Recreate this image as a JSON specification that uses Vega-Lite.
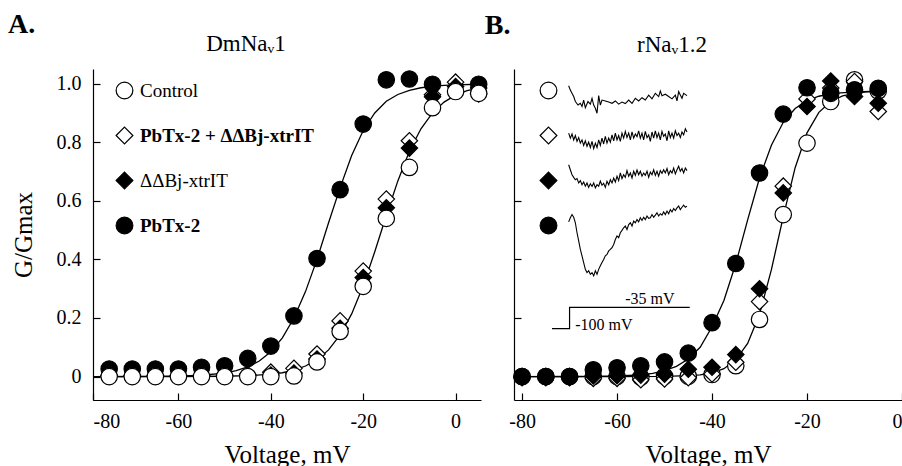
{
  "$schema": "https://vega.github.io/schema/vega-lite/v6.json",
  "padding": {"left": 8, "top": 11, "right": 0, "bottom": 0},
  "spacing": -6,
  "resolve": {"scale": {"x": "independent", "y": "independent", "shape": "independent", "fill": "independent"}},
  "config": {
    "font": "Liberation Serif",
    "view": {"stroke": null},
    "axis": {"domainColor": "black", "domainWidth": 1.2, "tickColor": "black", "tickWidth": 1.2, "tickSize": -7, "grid": false, "labelFont": "Liberation Serif", "labelFontSize": 20, "labelColor": "black", "titleFont": "Liberation Serif", "titleFontSize": 25, "titleFontWeight": "normal", "titleColor": "black"},
    "axisX": {"labelPadding": 18, "titlePadding": 11},
    "axisY": {"labelPadding": 19, "titlePadding": 20},
    "title": {"font": "Liberation Serif", "color": "black"},
    "legend": {"direction": "vertical", "symbolSize": 280, "symbolStrokeColor": "black", "symbolStrokeWidth": 1.2, "labelFont": "Liberation Serif", "labelFontSize": 19, "labelColor": "black", "labelOffset": 6, "rowPadding": 22, "padding": 0, "labelLimit": 400, "symbolOpacity": 1}
  },
  "datasets": {
    "ptsA": [
      {"s": "PD", "v": -75, "g": 0.005}, {"s": "PD", "v": -70, "g": 0.005}, {"s": "PD", "v": -65, "g": 0.005}, {"s": "PD", "v": -60, "g": 0.005}, {"s": "PD", "v": -55, "g": 0.005}, {"s": "PD", "v": -50, "g": 0.005}, {"s": "PD", "v": -45, "g": 0.008}, {"s": "PD", "v": -40, "g": 0.015}, {"s": "PD", "v": -35, "g": 0.028}, {"s": "PD", "v": -30, "g": 0.077}, {"s": "PD", "v": -25, "g": 0.19}, {"s": "PD", "v": -20, "g": 0.36}, {"s": "PD", "v": -15, "g": 0.606}, {"s": "PD", "v": -10, "g": 0.805}, {"s": "PD", "v": -5, "g": 0.962}, {"s": "PD", "v": 0, "g": 1.005}, {"s": "PD", "v": 5, "g": 0.965},
      {"s": "D", "v": -75, "g": 0.003}, {"s": "D", "v": -70, "g": 0.003}, {"s": "D", "v": -65, "g": 0.003}, {"s": "D", "v": -60, "g": 0.003}, {"s": "D", "v": -55, "g": 0.003}, {"s": "D", "v": -50, "g": 0.003}, {"s": "D", "v": -45, "g": 0.003}, {"s": "D", "v": -40, "g": 0.005}, {"s": "D", "v": -35, "g": 0.012}, {"s": "D", "v": -30, "g": 0.06}, {"s": "D", "v": -25, "g": 0.165}, {"s": "D", "v": -20, "g": 0.338}, {"s": "D", "v": -15, "g": 0.576}, {"s": "D", "v": -10, "g": 0.78}, {"s": "D", "v": -5, "g": 0.955}, {"s": "D", "v": 0, "g": 0.99}, {"s": "D", "v": 5, "g": 0.985},
      {"s": "P", "v": -75, "g": 0.026}, {"s": "P", "v": -70, "g": 0.026}, {"s": "P", "v": -65, "g": 0.026}, {"s": "P", "v": -60, "g": 0.026}, {"s": "P", "v": -55, "g": 0.032}, {"s": "P", "v": -50, "g": 0.037}, {"s": "P", "v": -45, "g": 0.062}, {"s": "P", "v": -40, "g": 0.104}, {"s": "P", "v": -35, "g": 0.207}, {"s": "P", "v": -30, "g": 0.403}, {"s": "P", "v": -25, "g": 0.638}, {"s": "P", "v": -20, "g": 0.862}, {"s": "P", "v": -15, "g": 1.013}, {"s": "P", "v": -10, "g": 1.016}, {"s": "P", "v": -5, "g": 0.998}, {"s": "P", "v": 5, "g": 0.998},
      {"s": "C", "v": -75, "g": 0.0}, {"s": "C", "v": -70, "g": 0.0}, {"s": "C", "v": -65, "g": 0.0}, {"s": "C", "v": -60, "g": 0.0}, {"s": "C", "v": -55, "g": 0.0}, {"s": "C", "v": -50, "g": 0.0}, {"s": "C", "v": -45, "g": 0.0}, {"s": "C", "v": -40, "g": 0.0}, {"s": "C", "v": -35, "g": 0.002}, {"s": "C", "v": -30, "g": 0.05}, {"s": "C", "v": -25, "g": 0.154}, {"s": "C", "v": -20, "g": 0.308}, {"s": "C", "v": -15, "g": 0.54}, {"s": "C", "v": -10, "g": 0.714}, {"s": "C", "v": -5, "g": 0.918}, {"s": "C", "v": 0, "g": 0.973}, {"s": "C", "v": 5, "g": 0.967}
    ],
    "curvesA": [
      {"c": "P", "v": -78.5, "g": 0.0}, {"c": "P", "v": -70, "g": 0.0002}, {"c": "P", "v": -65, "g": 0.0006}, {"c": "P", "v": -60, "g": 0.0017}, {"c": "P", "v": -55, "g": 0.0045}, {"c": "P", "v": -50, "g": 0.012}, {"c": "P", "v": -47.5, "g": 0.02}, {"c": "P", "v": -45, "g": 0.033}, {"c": "P", "v": -42.5, "g": 0.053}, {"c": "P", "v": -40, "g": 0.085}, {"c": "P", "v": -37.5, "g": 0.132}, {"c": "P", "v": -35, "g": 0.2}, {"c": "P", "v": -32.5, "g": 0.29}, {"c": "P", "v": -30, "g": 0.4}, {"c": "P", "v": -27.5, "g": 0.525}, {"c": "P", "v": -25, "g": 0.645}, {"c": "P", "v": -22.5, "g": 0.755}, {"c": "P", "v": -20, "g": 0.84}, {"c": "P", "v": -17.5, "g": 0.9}, {"c": "P", "v": -15, "g": 0.94}, {"c": "P", "v": -12.5, "g": 0.963}, {"c": "P", "v": -10, "g": 0.977}, {"c": "P", "v": -7.5, "g": 0.986}, {"c": "P", "v": -5, "g": 0.991}, {"c": "P", "v": -2.5, "g": 0.994}, {"c": "P", "v": 0, "g": 0.996}, {"c": "P", "v": 5, "g": 0.998},
      {"c": "C", "v": -78.5, "g": 0.0}, {"c": "C", "v": -70, "g": 0.0}, {"c": "C", "v": -60, "g": 0.0002}, {"c": "C", "v": -50, "g": 0.001}, {"c": "C", "v": -45, "g": 0.003}, {"c": "C", "v": -40, "g": 0.008}, {"c": "C", "v": -37.5, "g": 0.013}, {"c": "C", "v": -35, "g": 0.022}, {"c": "C", "v": -32.5, "g": 0.036}, {"c": "C", "v": -30, "g": 0.057}, {"c": "C", "v": -27.5, "g": 0.091}, {"c": "C", "v": -25, "g": 0.142}, {"c": "C", "v": -22.5, "g": 0.214}, {"c": "C", "v": -20, "g": 0.31}, {"c": "C", "v": -17.5, "g": 0.426}, {"c": "C", "v": -15, "g": 0.55}, {"c": "C", "v": -12.5, "g": 0.668}, {"c": "C", "v": -10, "g": 0.769}, {"c": "C", "v": -7.5, "g": 0.846}, {"c": "C", "v": -5, "g": 0.9}, {"c": "C", "v": -2.5, "g": 0.937}, {"c": "C", "v": 0, "g": 0.961}, {"c": "C", "v": 2.5, "g": 0.976}, {"c": "C", "v": 5, "g": 0.985}
    ],
    "ptsB": [
      {"s": "C", "v": -80, "g": 0.0}, {"s": "C", "v": -75, "g": 0.0}, {"s": "C", "v": -70, "g": 0.0}, {"s": "C", "v": -65, "g": 0.0}, {"s": "C", "v": -60, "g": 0.0}, {"s": "C", "v": -55, "g": -0.002}, {"s": "C", "v": -50, "g": 0.001}, {"s": "C", "v": -45, "g": 0.001}, {"s": "C", "v": -40, "g": 0.007}, {"s": "C", "v": -35, "g": 0.037}, {"s": "C", "v": -30, "g": 0.195}, {"s": "C", "v": -25, "g": 0.553}, {"s": "C", "v": -20, "g": 0.797}, {"s": "C", "v": -15, "g": 0.939}, {"s": "C", "v": -10, "g": 1.013}, {"s": "C", "v": -5, "g": 0.975},
      {"s": "PD", "v": -80, "g": -0.004}, {"s": "PD", "v": -75, "g": -0.004}, {"s": "PD", "v": -70, "g": -0.004}, {"s": "PD", "v": -65, "g": -0.006}, {"s": "PD", "v": -60, "g": -0.006}, {"s": "PD", "v": -55, "g": -0.011}, {"s": "PD", "v": -50, "g": -0.008}, {"s": "PD", "v": -45, "g": -0.004}, {"s": "PD", "v": -40, "g": 0.009}, {"s": "PD", "v": -35, "g": 0.049}, {"s": "PD", "v": -30, "g": 0.256}, {"s": "PD", "v": -25, "g": 0.65}, {"s": "PD", "v": -20, "g": 0.948}, {"s": "PD", "v": -15, "g": 0.985}, {"s": "PD", "v": -10, "g": 1.007}, {"s": "PD", "v": -5, "g": 0.905},
      {"s": "P", "v": -80, "g": 0.0}, {"s": "P", "v": -75, "g": 0.0}, {"s": "P", "v": -70, "g": 0.0}, {"s": "P", "v": -65, "g": 0.023}, {"s": "P", "v": -60, "g": 0.03}, {"s": "P", "v": -55, "g": 0.037}, {"s": "P", "v": -50, "g": 0.05}, {"s": "P", "v": -45, "g": 0.08}, {"s": "P", "v": -40, "g": 0.184}, {"s": "P", "v": -35, "g": 0.386}, {"s": "P", "v": -30, "g": 0.695}, {"s": "P", "v": -25, "g": 0.896}, {"s": "P", "v": -20, "g": 0.986}, {"s": "P", "v": -15, "g": 0.967}, {"s": "P", "v": -10, "g": 0.979}, {"s": "P", "v": -5, "g": 0.984},
      {"s": "D", "v": -80, "g": 0.0}, {"s": "D", "v": -75, "g": 0.0}, {"s": "D", "v": -70, "g": 0.0}, {"s": "D", "v": -65, "g": 0.002}, {"s": "D", "v": -60, "g": 0.003}, {"s": "D", "v": -55, "g": 0.005}, {"s": "D", "v": -50, "g": 0.008}, {"s": "D", "v": -45, "g": 0.025}, {"s": "D", "v": -40, "g": 0.032}, {"s": "D", "v": -35, "g": 0.075}, {"s": "D", "v": -30, "g": 0.3}, {"s": "D", "v": -25, "g": 0.627}, {"s": "D", "v": -20, "g": 0.922}, {"s": "D", "v": -15, "g": 1.009}, {"s": "D", "v": -10, "g": 0.956}, {"s": "D", "v": -5, "g": 0.933}
    ],
    "curvesB": [
      {"c": "P", "v": -81, "g": 0.0}, {"c": "P", "v": -70, "g": 0.0002}, {"c": "P", "v": -65, "g": 0.0008}, {"c": "P", "v": -60, "g": 0.002}, {"c": "P", "v": -55, "g": 0.006}, {"c": "P", "v": -52.5, "g": 0.011}, {"c": "P", "v": -50, "g": 0.02}, {"c": "P", "v": -47.5, "g": 0.035}, {"c": "P", "v": -45, "g": 0.06}, {"c": "P", "v": -42.5, "g": 0.1}, {"c": "P", "v": -40, "g": 0.17}, {"c": "P", "v": -37.5, "g": 0.26}, {"c": "P", "v": -35, "g": 0.385}, {"c": "P", "v": -32.5, "g": 0.535}, {"c": "P", "v": -30, "g": 0.678}, {"c": "P", "v": -27.5, "g": 0.79}, {"c": "P", "v": -25, "g": 0.868}, {"c": "P", "v": -22.5, "g": 0.915}, {"c": "P", "v": -20, "g": 0.942}, {"c": "P", "v": -17.5, "g": 0.957}, {"c": "P", "v": -15, "g": 0.966}, {"c": "P", "v": -10, "g": 0.972}, {"c": "P", "v": -5, "g": 0.974},
      {"c": "C", "v": -81, "g": 0.0}, {"c": "C", "v": -60, "g": 0.0}, {"c": "C", "v": -50, "g": 0.0005}, {"c": "C", "v": -45, "g": 0.003}, {"c": "C", "v": -42.5, "g": 0.006}, {"c": "C", "v": -40, "g": 0.013}, {"c": "C", "v": -37.5, "g": 0.027}, {"c": "C", "v": -35, "g": 0.057}, {"c": "C", "v": -32.5, "g": 0.113}, {"c": "C", "v": -30, "g": 0.213}, {"c": "C", "v": -27.5, "g": 0.365}, {"c": "C", "v": -25, "g": 0.546}, {"c": "C", "v": -22.5, "g": 0.713}, {"c": "C", "v": -20, "g": 0.832}, {"c": "C", "v": -17.5, "g": 0.902}, {"c": "C", "v": -15, "g": 0.939}, {"c": "C", "v": -12.5, "g": 0.958}, {"c": "C", "v": -10, "g": 0.967}, {"c": "C", "v": -7.5, "g": 0.972}, {"c": "C", "v": -5, "g": 0.974}
    ],
    "step": [
      {"i": 1, "v": -73.7, "g": 0.164}, {"i": 2, "v": -70.0, "g": 0.164}, {"i": 3, "v": -70.0, "g": 0.236}, {"i": 4, "v": -44.7, "g": 0.236}
    ],
    "stepLabels": [
      {"v": -58.3, "g": 0.247, "label": "-35 mV"}, {"v": -68.8, "g": 0.16, "label": "-100 mV"}
    ],
    "traces": [
      {"t": 1, "v": -70.19, "g": 0.993}, {"t": 1, "v": -69.84, "g": 0.978}, {"t": 1, "v": -69.13, "g": 0.956}, {"t": 1, "v": -68.78, "g": 0.939}, {"t": 1, "v": -68.22, "g": 0.927}, {"t": 1, "v": -67.73, "g": 0.933}, {"t": 1, "v": -67.38, "g": 0.922}, {"t": 1, "v": -67.03, "g": 0.944}, {"t": 1, "v": -66.68, "g": 0.918}, {"t": 1, "v": -66.12, "g": 0.939}, {"t": 1, "v": -65.62, "g": 0.93}, {"t": 1, "v": -65.27, "g": 0.95}, {"t": 1, "v": -64.92, "g": 0.927}, {"t": 1, "v": -64.57, "g": 0.916}, {"t": 1, "v": -64.22, "g": 0.899}, {"t": 1, "v": -63.87, "g": 0.959}, {"t": 1, "v": -63.52, "g": 0.927}, {"t": 1, "v": -63.17, "g": 0.944}, {"t": 1, "v": -62.47, "g": 0.941}, {"t": 1, "v": -61.76, "g": 0.937}, {"t": 1, "v": -61.06, "g": 0.933}, {"t": 1, "v": -60.36, "g": 0.941}, {"t": 1, "v": -59.66, "g": 0.93}, {"t": 1, "v": -58.96, "g": 0.937}, {"t": 1, "v": -58.26, "g": 0.932}, {"t": 1, "v": -57.55, "g": 0.944}, {"t": 1, "v": -56.85, "g": 0.933}, {"t": 1, "v": -56.15, "g": 0.95}, {"t": 1, "v": -55.45, "g": 0.941}, {"t": 1, "v": -54.75, "g": 0.952}, {"t": 1, "v": -54.05, "g": 0.944}, {"t": 1, "v": -53.34, "g": 0.961}, {"t": 1, "v": -52.64, "g": 0.948}, {"t": 1, "v": -51.94, "g": 0.967}, {"t": 1, "v": -51.24, "g": 0.956}, {"t": 1, "v": -50.89, "g": 0.975}, {"t": 1, "v": -50.54, "g": 0.959}, {"t": 1, "v": -49.84, "g": 0.964}, {"t": 1, "v": -49.13, "g": 0.956}, {"t": 1, "v": -48.43, "g": 0.948}, {"t": 1, "v": -47.73, "g": 0.961}, {"t": 1, "v": -47.38, "g": 0.941}, {"t": 1, "v": -47.03, "g": 0.973}, {"t": 1, "v": -46.68, "g": 0.961}, {"t": 1, "v": -46.33, "g": 0.95}, {"t": 1, "v": -45.98, "g": 0.967}, {"t": 1, "v": -45.27, "g": 0.959},
      {"t": 2, "v": -70.19, "g": 0.831}, {"t": 2, "v": -69.84, "g": 0.814}, {"t": 2, "v": -69.48, "g": 0.828}, {"t": 2, "v": -69.13, "g": 0.808}, {"t": 2, "v": -68.78, "g": 0.823}, {"t": 2, "v": -68.43, "g": 0.803}, {"t": 2, "v": -68.08, "g": 0.816}, {"t": 2, "v": -67.73, "g": 0.797}, {"t": 2, "v": -67.38, "g": 0.808}, {"t": 2, "v": -67.03, "g": 0.789}, {"t": 2, "v": -66.68, "g": 0.805}, {"t": 2, "v": -66.33, "g": 0.786}, {"t": 2, "v": -65.98, "g": 0.8}, {"t": 2, "v": -65.62, "g": 0.782}, {"t": 2, "v": -65.27, "g": 0.803}, {"t": 2, "v": -64.92, "g": 0.778}, {"t": 2, "v": -64.57, "g": 0.797}, {"t": 2, "v": -64.22, "g": 0.782}, {"t": 2, "v": -63.87, "g": 0.808}, {"t": 2, "v": -63.52, "g": 0.789}, {"t": 2, "v": -63.17, "g": 0.814}, {"t": 2, "v": -62.82, "g": 0.794}, {"t": 2, "v": -62.47, "g": 0.82}, {"t": 2, "v": -62.12, "g": 0.797}, {"t": 2, "v": -61.76, "g": 0.814}, {"t": 2, "v": -61.41, "g": 0.8}, {"t": 2, "v": -61.06, "g": 0.825}, {"t": 2, "v": -60.71, "g": 0.805}, {"t": 2, "v": -60.36, "g": 0.831}, {"t": 2, "v": -60.01, "g": 0.808}, {"t": 2, "v": -59.66, "g": 0.823}, {"t": 2, "v": -59.31, "g": 0.803}, {"t": 2, "v": -58.96, "g": 0.831}, {"t": 2, "v": -58.61, "g": 0.814}, {"t": 2, "v": -58.26, "g": 0.837}, {"t": 2, "v": -57.91, "g": 0.816}, {"t": 2, "v": -57.55, "g": 0.831}, {"t": 2, "v": -57.2, "g": 0.808}, {"t": 2, "v": -56.85, "g": 0.835}, {"t": 2, "v": -56.5, "g": 0.814}, {"t": 2, "v": -56.15, "g": 0.828}, {"t": 2, "v": -55.8, "g": 0.819}, {"t": 2, "v": -55.45, "g": 0.839}, {"t": 2, "v": -55.1, "g": 0.814}, {"t": 2, "v": -54.75, "g": 0.831}, {"t": 2, "v": -54.4, "g": 0.808}, {"t": 2, "v": -54.05, "g": 0.837}, {"t": 2, "v": -53.69, "g": 0.816}, {"t": 2, "v": -53.34, "g": 0.825}, {"t": 2, "v": -52.99, "g": 0.803}, {"t": 2, "v": -52.64, "g": 0.835}, {"t": 2, "v": -52.29, "g": 0.814}, {"t": 2, "v": -51.94, "g": 0.839}, {"t": 2, "v": -51.59, "g": 0.816}, {"t": 2, "v": -51.24, "g": 0.831}, {"t": 2, "v": -50.89, "g": 0.808}, {"t": 2, "v": -50.54, "g": 0.837}, {"t": 2, "v": -50.19, "g": 0.82}, {"t": 2, "v": -49.84, "g": 0.828}, {"t": 2, "v": -49.48, "g": 0.805}, {"t": 2, "v": -49.13, "g": 0.839}, {"t": 2, "v": -48.78, "g": 0.816}, {"t": 2, "v": -48.43, "g": 0.831}, {"t": 2, "v": -48.08, "g": 0.814}, {"t": 2, "v": -47.73, "g": 0.839}, {"t": 2, "v": -47.38, "g": 0.823}, {"t": 2, "v": -47.03, "g": 0.831}, {"t": 2, "v": -46.68, "g": 0.816}, {"t": 2, "v": -46.33, "g": 0.835}, {"t": 2, "v": -45.98, "g": 0.825}, {"t": 2, "v": -45.62, "g": 0.846}, {"t": 2, "v": -45.27, "g": 0.835},
      {"t": 3, "v": -70.19, "g": 0.723}, {"t": 3, "v": -69.84, "g": 0.706}, {"t": 3, "v": -69.48, "g": 0.689}, {"t": 3, "v": -69.13, "g": 0.68}, {"t": 3, "v": -68.78, "g": 0.672}, {"t": 3, "v": -68.43, "g": 0.676}, {"t": 3, "v": -68.08, "g": 0.661}, {"t": 3, "v": -67.73, "g": 0.669}, {"t": 3, "v": -67.38, "g": 0.655}, {"t": 3, "v": -67.03, "g": 0.664}, {"t": 3, "v": -66.68, "g": 0.65}, {"t": 3, "v": -66.33, "g": 0.661}, {"t": 3, "v": -65.98, "g": 0.646}, {"t": 3, "v": -65.62, "g": 0.658}, {"t": 3, "v": -65.27, "g": 0.649}, {"t": 3, "v": -64.92, "g": 0.661}, {"t": 3, "v": -64.57, "g": 0.644}, {"t": 3, "v": -64.22, "g": 0.655}, {"t": 3, "v": -63.87, "g": 0.65}, {"t": 3, "v": -63.52, "g": 0.667}, {"t": 3, "v": -63.17, "g": 0.653}, {"t": 3, "v": -62.82, "g": 0.66}, {"t": 3, "v": -62.47, "g": 0.646}, {"t": 3, "v": -62.12, "g": 0.667}, {"t": 3, "v": -61.76, "g": 0.655}, {"t": 3, "v": -61.41, "g": 0.672}, {"t": 3, "v": -61.06, "g": 0.661}, {"t": 3, "v": -60.71, "g": 0.678}, {"t": 3, "v": -60.36, "g": 0.664}, {"t": 3, "v": -60.01, "g": 0.684}, {"t": 3, "v": -59.66, "g": 0.669}, {"t": 3, "v": -59.31, "g": 0.695}, {"t": 3, "v": -58.96, "g": 0.676}, {"t": 3, "v": -58.61, "g": 0.689}, {"t": 3, "v": -58.26, "g": 0.68}, {"t": 3, "v": -57.91, "g": 0.703}, {"t": 3, "v": -57.55, "g": 0.684}, {"t": 3, "v": -57.2, "g": 0.695}, {"t": 3, "v": -56.85, "g": 0.678}, {"t": 3, "v": -56.5, "g": 0.701}, {"t": 3, "v": -56.15, "g": 0.687}, {"t": 3, "v": -55.8, "g": 0.705}, {"t": 3, "v": -55.45, "g": 0.689}, {"t": 3, "v": -55.1, "g": 0.701}, {"t": 3, "v": -54.75, "g": 0.684}, {"t": 3, "v": -54.4, "g": 0.695}, {"t": 3, "v": -54.05, "g": 0.687}, {"t": 3, "v": -53.69, "g": 0.701}, {"t": 3, "v": -53.34, "g": 0.68}, {"t": 3, "v": -52.99, "g": 0.698}, {"t": 3, "v": -52.64, "g": 0.689}, {"t": 3, "v": -52.29, "g": 0.706}, {"t": 3, "v": -51.94, "g": 0.687}, {"t": 3, "v": -51.59, "g": 0.701}, {"t": 3, "v": -51.24, "g": 0.684}, {"t": 3, "v": -50.89, "g": 0.703}, {"t": 3, "v": -50.54, "g": 0.694}, {"t": 3, "v": -50.19, "g": 0.706}, {"t": 3, "v": -49.84, "g": 0.695}, {"t": 3, "v": -49.48, "g": 0.71}, {"t": 3, "v": -49.13, "g": 0.689}, {"t": 3, "v": -48.78, "g": 0.703}, {"t": 3, "v": -48.43, "g": 0.695}, {"t": 3, "v": -48.08, "g": 0.712}, {"t": 3, "v": -47.73, "g": 0.692}, {"t": 3, "v": -47.38, "g": 0.706}, {"t": 3, "v": -47.03, "g": 0.718}, {"t": 3, "v": -46.68, "g": 0.701}, {"t": 3, "v": -46.33, "g": 0.71}, {"t": 3, "v": -45.98, "g": 0.695}, {"t": 3, "v": -45.62, "g": 0.712}, {"t": 3, "v": -45.27, "g": 0.703},
      {"t": 4, "v": -70.19, "g": 0.528}, {"t": 4, "v": -69.84, "g": 0.542}, {"t": 4, "v": -69.48, "g": 0.553}, {"t": 4, "v": -69.13, "g": 0.544}, {"t": 4, "v": -68.78, "g": 0.525}, {"t": 4, "v": -68.43, "g": 0.491}, {"t": 4, "v": -68.08, "g": 0.463}, {"t": 4, "v": -67.73, "g": 0.434}, {"t": 4, "v": -67.38, "g": 0.412}, {"t": 4, "v": -67.03, "g": 0.389}, {"t": 4, "v": -66.68, "g": 0.366}, {"t": 4, "v": -66.33, "g": 0.355}, {"t": 4, "v": -65.98, "g": 0.361}, {"t": 4, "v": -65.62, "g": 0.349}, {"t": 4, "v": -65.27, "g": 0.355}, {"t": 4, "v": -64.92, "g": 0.344}, {"t": 4, "v": -64.57, "g": 0.361}, {"t": 4, "v": -64.22, "g": 0.349}, {"t": 4, "v": -63.87, "g": 0.366}, {"t": 4, "v": -63.52, "g": 0.378}, {"t": 4, "v": -63.17, "g": 0.389}, {"t": 4, "v": -62.82, "g": 0.4}, {"t": 4, "v": -62.47, "g": 0.412}, {"t": 4, "v": -62.12, "g": 0.417}, {"t": 4, "v": -61.76, "g": 0.429}, {"t": 4, "v": -61.41, "g": 0.434}, {"t": 4, "v": -61.06, "g": 0.44}, {"t": 4, "v": -60.71, "g": 0.451}, {"t": 4, "v": -60.36, "g": 0.468}, {"t": 4, "v": -60.01, "g": 0.48}, {"t": 4, "v": -59.66, "g": 0.474}, {"t": 4, "v": -59.31, "g": 0.491}, {"t": 4, "v": -58.96, "g": 0.499}, {"t": 4, "v": -58.61, "g": 0.508}, {"t": 4, "v": -58.26, "g": 0.514}, {"t": 4, "v": -57.91, "g": 0.502}, {"t": 4, "v": -57.55, "g": 0.519}, {"t": 4, "v": -57.2, "g": 0.525}, {"t": 4, "v": -56.85, "g": 0.514}, {"t": 4, "v": -56.5, "g": 0.531}, {"t": 4, "v": -56.15, "g": 0.525}, {"t": 4, "v": -55.8, "g": 0.536}, {"t": 4, "v": -55.45, "g": 0.528}, {"t": 4, "v": -55.1, "g": 0.542}, {"t": 4, "v": -54.75, "g": 0.533}, {"t": 4, "v": -54.4, "g": 0.544}, {"t": 4, "v": -54.05, "g": 0.536}, {"t": 4, "v": -53.69, "g": 0.548}, {"t": 4, "v": -53.34, "g": 0.54}, {"t": 4, "v": -52.99, "g": 0.542}, {"t": 4, "v": -52.64, "g": 0.553}, {"t": 4, "v": -52.29, "g": 0.544}, {"t": 4, "v": -51.94, "g": 0.551}, {"t": 4, "v": -51.59, "g": 0.559}, {"t": 4, "v": -51.24, "g": 0.548}, {"t": 4, "v": -50.89, "g": 0.556}, {"t": 4, "v": -50.54, "g": 0.551}, {"t": 4, "v": -50.19, "g": 0.562}, {"t": 4, "v": -49.84, "g": 0.553}, {"t": 4, "v": -49.48, "g": 0.565}, {"t": 4, "v": -49.13, "g": 0.556}, {"t": 4, "v": -48.78, "g": 0.57}, {"t": 4, "v": -48.43, "g": 0.562}, {"t": 4, "v": -48.08, "g": 0.574}, {"t": 4, "v": -47.73, "g": 0.567}, {"t": 4, "v": -47.38, "g": 0.576}, {"t": 4, "v": -47.03, "g": 0.582}, {"t": 4, "v": -46.68, "g": 0.57}, {"t": 4, "v": -46.33, "g": 0.578}, {"t": 4, "v": -45.98, "g": 0.585}, {"t": 4, "v": -45.62, "g": 0.578}, {"t": 4, "v": -45.27, "g": 0.582}
    ]
  },
  "hconcat": [
    {
      "title": {"text": "A.", "anchor": "start", "frame": "bounds", "fontSize": 28, "fontWeight": "bold", "offset": -6, "dx": -3},
      "vconcat": [
        {
          "title": {"text": "DmNaᵥ1", "anchor": "middle", "fontSize": 23, "fontWeight": "normal", "offset": 12, "dx": -41},
          "width": 388,
          "height": 331,
          "encoding": {
            "x": {"field": "v", "type": "quantitative", "scale": {"domain": [-78.5, 5.5], "nice": false, "zero": false},
                  "axis": {"title": "Voltage, mV", "values": [-78.5, -60, -40, -20, 0], "labelExpr": "datum.value < -70 ? '-80' : datum.value + ''"}},
            "y": {"field": "g", "type": "quantitative", "scale": {"domain": [-0.08, 1.05], "nice": false, "zero": false},
                  "axis": {"title": "G/Gmax", "values": [0, 0.2, 0.4, 0.6, 0.8, 1], "labelExpr": "datum.value == 0 ? '0' : format(datum.value, '.1f')"}}
          },
          "layer": [
            {"data": {"name": "curvesA"}, "mark": {"type": "line", "stroke": "black", "strokeWidth": 1.3},
             "encoding": {"detail": {"field": "c"}}},
            {"data": {"name": "ptsA"}, "mark": {"type": "point", "filled": true, "stroke": "black", "strokeWidth": 1.2, "opacity": 1, "size": 270},
             "encoding": {
               "shape": {"field": "s", "type": "nominal", "scale": {"domain": ["C", "PD", "D", "P"], "range": ["circle", "diamond", "diamond", "circle"]},
                         "legend": {"orient": "none", "title": null, "legendX": 22, "legendY": 12, "labelExpr": "datum.value == 'C' ? 'Control' : datum.value == 'PD' ? 'PbTx-2 + ΔΔBj-xtrIT' : datum.value == 'D' ? 'ΔΔBj-xtrIT' : 'PbTx-2'",
                                    "encode": {"symbols": {"update": {"stroke": {"value": "black"}, "strokeWidth": {"value": 1.2}}}, "labels": {"update": {"fontWeight": {"signal": "datum.value == 'P' || datum.value == 'PD' ? 'bold' : 'normal'"}}}}}},
               "fill": {"field": "s", "type": "nominal", "scale": {"domain": ["C", "PD", "D", "P"], "range": ["white", "white", "black", "black"]},
                        "legend": {"orient": "none", "title": null, "legendX": 22, "legendY": 12, "labelExpr": "datum.value == 'C' ? 'Control' : datum.value == 'PD' ? 'PbTx-2 + ΔΔBj-xtrIT' : datum.value == 'D' ? 'ΔΔBj-xtrIT' : 'PbTx-2'",
                                   "encode": {"symbols": {"update": {"stroke": {"value": "black"}, "strokeWidth": {"value": 1.2}}}, "labels": {"update": {"fontWeight": {"signal": "datum.value == 'P' || datum.value == 'PD' ? 'bold' : 'normal'"}}}}}}
             }}
          ]
        }
      ]
    },
    {
      "title": {"text": "B.", "anchor": "start", "frame": "bounds", "fontSize": 28, "fontWeight": "bold", "offset": -6, "dx": -24},
      "vconcat": [
        {
          "title": {"text": "rNaᵥ1.2", "anchor": "middle", "fontSize": 23, "fontWeight": "normal", "offset": 12, "dx": -36},
          "width": 388,
          "height": 331,
          "encoding": {
            "x": {"field": "v", "type": "quantitative", "scale": {"domain": [-81.7, 0], "nice": false, "zero": false},
                  "axis": {"title": "Voltage, mV", "values": [-80, -60, -40, -20, 0], "labelExpr": "datum.value + ''"}},
            "y": {"field": "g", "type": "quantitative", "scale": {"domain": [-0.08, 1.05], "nice": false, "zero": false},
                  "axis": {"title": null, "values": [0, 0.2, 0.4, 0.6, 0.8, 1], "labels": false}}
          },
          "layer": [
            {"data": {"name": "curvesB"}, "mark": {"type": "line", "stroke": "black", "strokeWidth": 1.3},
             "encoding": {"detail": {"field": "c"}}},
            {"data": {"name": "step"}, "mark": {"type": "line", "stroke": "black", "strokeWidth": 1.2},
             "encoding": {"order": {"field": "i", "type": "quantitative"}}},
            {"data": {"name": "traces"}, "mark": {"type": "line", "stroke": "black", "strokeWidth": 1.1},
             "encoding": {"detail": {"field": "t"}}},
            {"data": {"name": "stepLabels"}, "mark": {"type": "text", "align": "left", "baseline": "alphabetic", "fontSize": 16, "font": "Liberation Serif", "color": "black"},
             "encoding": {"text": {"field": "label"}}},
            {"data": {"name": "ptsB"}, "mark": {"type": "point", "filled": true, "stroke": "black", "strokeWidth": 1.2, "opacity": 1, "size": 270},
             "encoding": {
               "shape": {"field": "s", "type": "nominal", "scale": {"domain": ["C", "PD", "D", "P"], "range": ["circle", "diamond", "diamond", "circle"]},
                         "legend": {"orient": "none", "title": null, "legendX": 25, "legendY": 12, "labelOpacity": 0,
                                    "encode": {"symbols": {"update": {"stroke": {"value": "black"}, "strokeWidth": {"value": 1.2}}}}}},
               "fill": {"field": "s", "type": "nominal", "scale": {"domain": ["C", "PD", "D", "P"], "range": ["white", "white", "black", "black"]},
                        "legend": {"orient": "none", "title": null, "legendX": 25, "legendY": 12, "labelOpacity": 0,
                                   "encode": {"symbols": {"update": {"stroke": {"value": "black"}, "strokeWidth": {"value": 1.2}}}}}}
             }}
          ]
        }
      ]
    }
  ]
}
